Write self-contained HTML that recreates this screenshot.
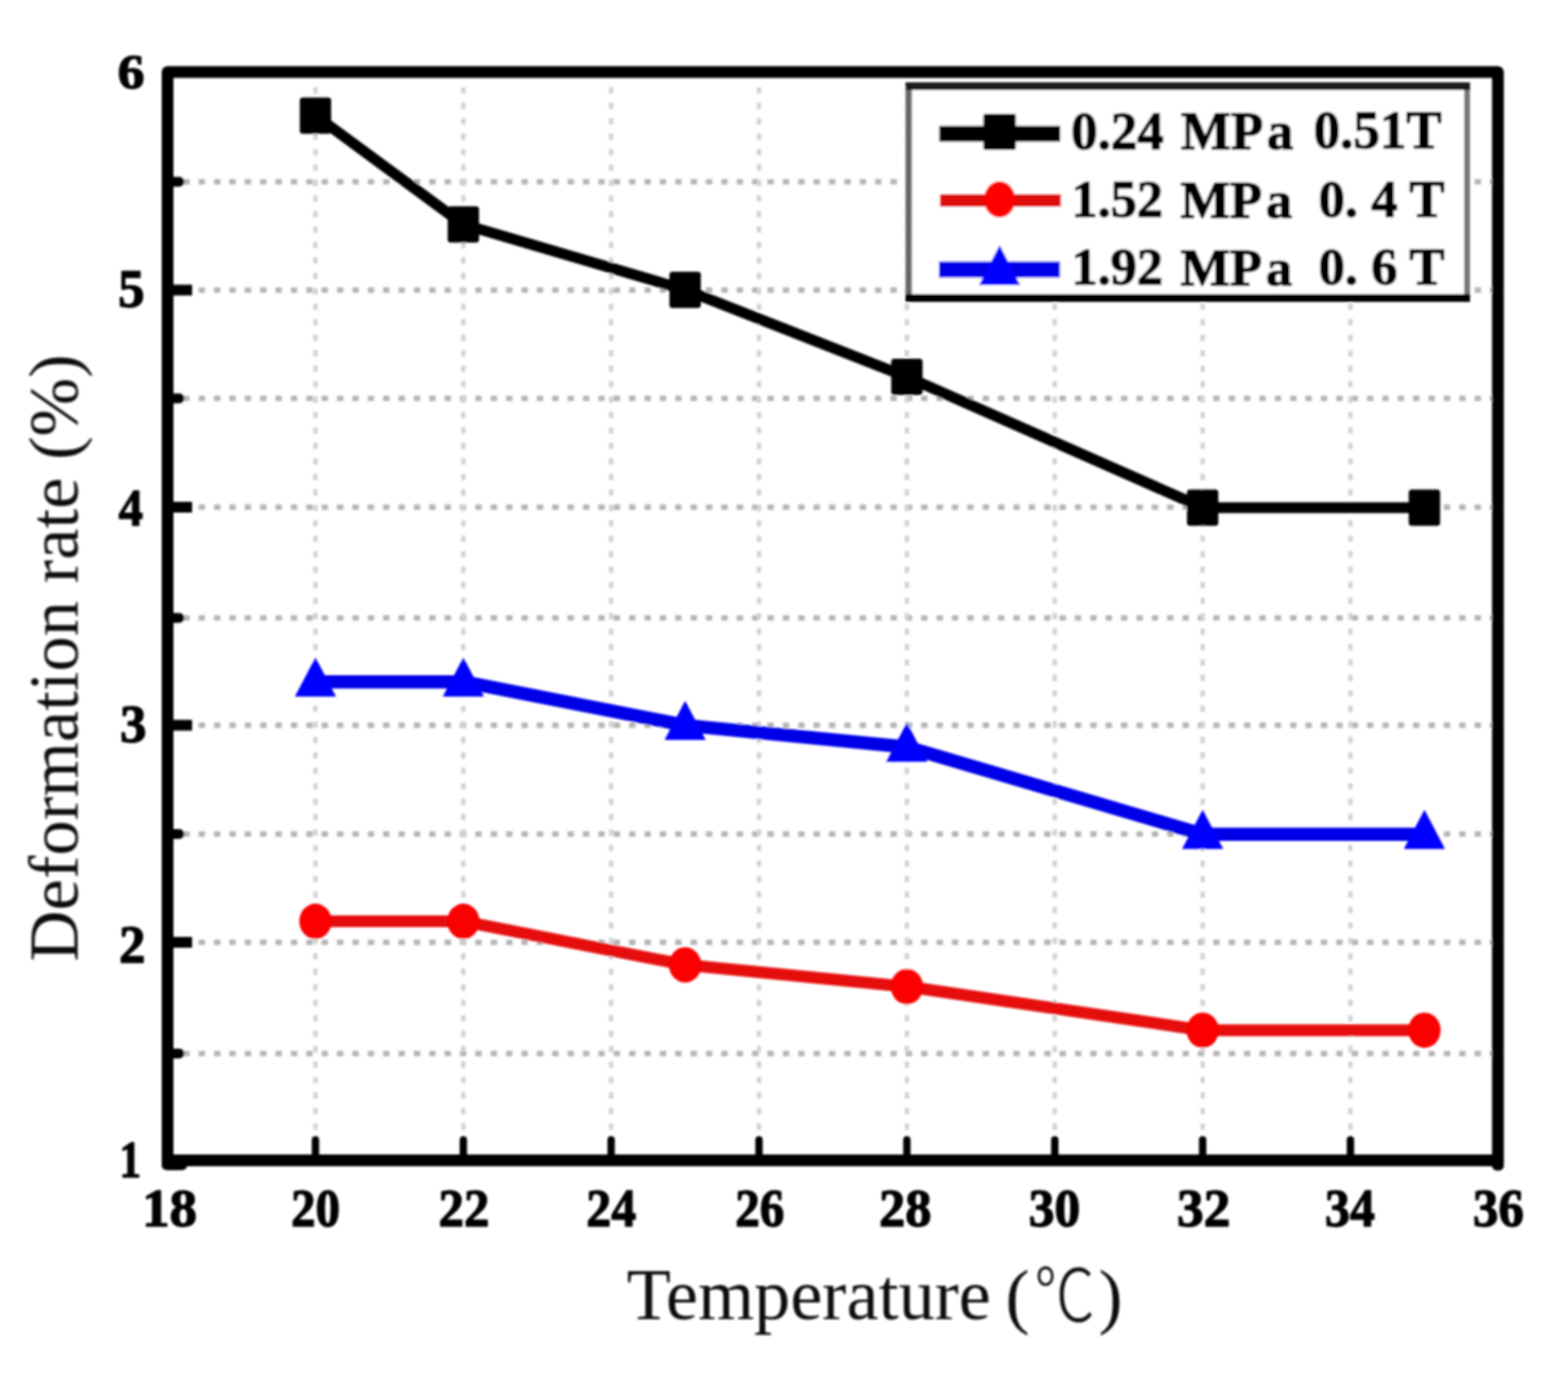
<!DOCTYPE html>
<html lang="en"><head><meta charset="utf-8"><title>Deformation rate vs Temperature</title><style>
html,body{margin:0;padding:0;background:#fff;width:1600px;height:1404px;overflow:hidden}
svg{display:block}
text{font-family:'Liberation Serif','Noto Serif CJK SC',serif}
.b{font-weight:bold;fill:#000;stroke:#000;stroke-linejoin:round}.r{font-weight:normal;fill:#111}
</style></head><body>
<svg width="1600" height="1404" viewBox="0 0 1600 1404">
<defs><filter id="soft" filterUnits="userSpaceOnUse" x="0" y="0" width="1600" height="1404"><feGaussianBlur stdDeviation="0.9"/></filter></defs>
<rect width="1600" height="1404" fill="#fff"/>
<g filter="url(#soft)">
<g stroke="#b4b4b4" stroke-width="5.5" stroke-dasharray="6.5 9.187" stroke-dashoffset="-10"><line x1="177" y1="1075.0" x2="1524" y2="1075.0"/><line x1="177" y1="961.5" x2="1524" y2="961.5"/><line x1="177" y1="851.0" x2="1524" y2="851.0"/><line x1="177" y1="740.0" x2="1524" y2="740.0"/><line x1="177" y1="630.5" x2="1524" y2="630.5"/><line x1="177" y1="517.5" x2="1524" y2="517.5"/><line x1="177" y1="406.5" x2="1524" y2="406.5"/><line x1="177" y1="296.0" x2="1524" y2="296.0"/><line x1="177" y1="185.5" x2="1524" y2="185.5"/></g>
<g stroke="#d2d2d2" stroke-width="4.5" stroke-dasharray="6.5 9.28" stroke-dashoffset="-8.9"><line x1="321.9" y1="80" x2="321.9" y2="1177"/><line x1="472.8" y1="80" x2="472.8" y2="1177"/><line x1="623.6" y1="80" x2="623.6" y2="1177"/><line x1="774.5" y1="80" x2="774.5" y2="1177"/><line x1="925.4" y1="80" x2="925.4" y2="1177"/><line x1="1076.3" y1="80" x2="1076.3" y2="1177"/><line x1="1227.2" y1="80" x2="1227.2" y2="1177"/><line x1="1378.0" y1="80" x2="1378.0" y2="1177"/></g>
<rect x="171" y="73.5" width="1357.5" height="1110.5" fill="none" stroke="#000" stroke-width="12" stroke-linejoin="round"/>
<rect x="165" y="1180" width="26" height="14" rx="5" fill="#000"/>
<rect x="1522.5" y="1180" width="12" height="14.5" rx="5" fill="#000"/>
<g stroke="#000"><line x1="171.0" y1="961.5" x2="196" y2="961.5" stroke-width="11"/><line x1="171.0" y1="740.0" x2="196" y2="740.0" stroke-width="11"/><line x1="171.0" y1="517.5" x2="196" y2="517.5" stroke-width="11"/><line x1="171.0" y1="296.0" x2="196" y2="296.0" stroke-width="11"/><line x1="171.0" y1="1075.0" x2="183" y2="1075.0" stroke-width="10" stroke-linecap="round"/><line x1="171.0" y1="851.0" x2="183" y2="851.0" stroke-width="10" stroke-linecap="round"/><line x1="171.0" y1="630.5" x2="183" y2="630.5" stroke-width="10" stroke-linecap="round"/><line x1="171.0" y1="406.5" x2="183" y2="406.5" stroke-width="10" stroke-linecap="round"/><line x1="171.0" y1="185.5" x2="183" y2="185.5" stroke-width="10" stroke-linecap="round"/><line x1="321.9" y1="1184.5" x2="321.9" y2="1163" stroke-width="7.5" stroke-linecap="round"/><line x1="472.8" y1="1184.5" x2="472.8" y2="1163" stroke-width="7.5" stroke-linecap="round"/><line x1="623.6" y1="1184.5" x2="623.6" y2="1163" stroke-width="7.5" stroke-linecap="round"/><line x1="774.5" y1="1184.5" x2="774.5" y2="1163" stroke-width="7.5" stroke-linecap="round"/><line x1="925.4" y1="1184.5" x2="925.4" y2="1163" stroke-width="7.5" stroke-linecap="round"/><line x1="1076.3" y1="1184.5" x2="1076.3" y2="1163" stroke-width="7.5" stroke-linecap="round"/><line x1="1227.2" y1="1184.5" x2="1227.2" y2="1163" stroke-width="7.5" stroke-linecap="round"/><line x1="1378.0" y1="1184.5" x2="1378.0" y2="1163" stroke-width="7.5" stroke-linecap="round"/></g>
<polyline points="321.9,117.9 472.8,229.0 699.1,295.7 925.4,384.6 1227.2,517.9 1453.5,517.9" fill="none" stroke="#000" stroke-width="11" stroke-linejoin="round"/>
<polyline points="321.9,695.7 472.8,695.7 699.1,740.1 925.4,762.3 1227.2,851.2 1453.5,851.2" fill="none" stroke="#0000e8" stroke-width="13.5" stroke-linejoin="round"/>
<polyline points="321.9,940.1 472.8,940.1 699.1,984.5 925.4,1006.7 1227.2,1051.2 1453.5,1051.2" fill="none" stroke="#e60808" stroke-width="12" stroke-linejoin="round"/>
<rect x="305.9" y="99.4" width="32" height="37" rx="3" fill="#000"/>
<rect x="456.8" y="210.5" width="32" height="37" rx="3" fill="#000"/>
<rect x="683.1" y="277.2" width="32" height="37" rx="3" fill="#000"/>
<rect x="909.4" y="366.1" width="32" height="37" rx="3" fill="#000"/>
<rect x="1211.2" y="499.4" width="32" height="37" rx="3" fill="#000"/>
<rect x="1437.5" y="499.4" width="32" height="37" rx="3" fill="#000"/>
<ellipse cx="321.9" cy="940.1" rx="16.5" ry="18" fill="#fa0000"/>
<ellipse cx="472.8" cy="940.1" rx="16.5" ry="18" fill="#fa0000"/>
<ellipse cx="699.1" cy="984.5" rx="16.5" ry="18" fill="#fa0000"/>
<ellipse cx="925.4" cy="1006.7" rx="16.5" ry="18" fill="#fa0000"/>
<ellipse cx="1227.2" cy="1051.2" rx="16.5" ry="18" fill="#fa0000"/>
<ellipse cx="1453.5" cy="1051.2" rx="16.5" ry="18" fill="#fa0000"/>
<polygon points="321.9,670.7 342.9,710.7 300.9,710.7" fill="#0000ff"/>
<polygon points="472.8,670.7 493.8,710.7 451.8,710.7" fill="#0000ff"/>
<polygon points="699.1,715.1 720.1,755.1 678.1,755.1" fill="#0000ff"/>
<polygon points="925.4,737.3 946.4,777.3 904.4,777.3" fill="#0000ff"/>
<polygon points="1227.2,826.2 1248.2,866.2 1206.2,866.2" fill="#0000ff"/>
<polygon points="1453.5,826.2 1474.5,866.2 1432.5,866.2" fill="#0000ff"/>
<rect x="924" y="84" width="576" height="224" fill="#fff"/>
<rect x="924" y="84" width="6.5" height="224" fill="#666"/>
<rect x="1494" y="84" width="6" height="224" fill="#777"/>
<rect x="924" y="84" width="576" height="8" fill="#1a1a1a"/>
<rect x="924" y="300" width="576" height="8" fill="#000"/>
<line x1="958.5" y1="136.5" x2="1082" y2="136.5" stroke="#000" stroke-width="16"/>
<rect x="1003.5" y="116" width="33" height="37" rx="2" fill="#000"/>
<line x1="959" y1="204.5" x2="1082.5" y2="204.5" stroke="#e00a0a" stroke-width="13"/>
<ellipse cx="1020" cy="203.5" rx="16" ry="18.5" fill="#ff0000"/>
<line x1="958" y1="275" x2="1081.5" y2="275" stroke="#0000e8" stroke-width="16.5"/>
<polygon points="1020,250 1041,291 999,291" fill="#0000ff"/>
<text class="b" style="font-size:55px;stroke-width:1.3px;" transform="scale(0.9815 0.9788)"><tspan x="1113.62" y="155.51">0.24</tspan> <tspan x="1227.71" y="155.51">MP<tspan dx="4">a</tspan></tspan> <tspan x="1365.78" y="154.48">0.51T</tspan></text>
<text class="b" style="font-size:55px;stroke-width:1.3px;" transform="scale(0.9740 0.9626)"><tspan x="1122.34" y="229.70">1.52</tspan> <tspan x="1236.71" y="230.22">MP<tspan dx="4">a</tspan></tspan> <tspan x="1381.51" y="229.18">0. 4 T</tspan></text>
<text class="b" style="font-size:55px;stroke-width:1.3px;" transform="scale(0.9740 0.9707)"><tspan x="1122.34" y="299.18">1.92</tspan> <tspan x="1236.71" y="299.70">MP<tspan dx="4">a</tspan></tspan> <tspan x="1381.51" y="298.67">0. 6 T</tspan></text>
<text class="r" style="font-size:74px;" transform="scale(0.9967 0.9942)"><tspan x="641.65" y="1354.10">Temperature</tspan> <tspan x="1029.46" y="1355.09">(</tspan><tspan x="1058.68" y="1356.07" textLength="62.44" lengthAdjust="spacingAndGlyphs" style="font-family:'Liberation Sans','Noto Sans CJK SC',sans-serif;font-weight:300">℃</tspan><tspan x="1124.77" y="1354.59">)</tspan></text>
<text class="r" style="font-size:72px;" transform="translate(79.23 981.00) rotate(-90) scale(1.0000 0.9848)">Deformation rate (%)</text>
<text class="b" style="font-size:55px;stroke-width:1.3px;" transform="matrix(1.0000 0 0 0.9289 120.00 90.37)">6</text>
<text class="b" style="font-size:55px;stroke-width:1.3px;" transform="matrix(0.9833 0 0 0.9868 120.43 312.51)">5</text>
<text class="b" style="font-size:55px;stroke-width:1.3px;" transform="matrix(0.9074 0 0 0.9737 121.00 536.03)">4</text>
<text class="b" style="font-size:55px;stroke-width:1.3px;" transform="matrix(0.9800 0 0 0.9842 122.52 756.72)">3</text>
<text class="b" style="font-size:55px;stroke-width:1.3px;" transform="matrix(0.9792 0 0 0.9816 121.54 982.02)">2</text>
<text class="b" style="font-size:55px;stroke-width:1.3px;" transform="matrix(0.8095 0 0 0.9737 121.76 1201.03)">1</text>
<text class="b" style="font-size:55px;stroke-width:1.3px;" transform="matrix(1.0200 0 0 1.0000 144.92 1251.00)">18</text>
<text class="b" style="font-size:55px;stroke-width:1.3px;" transform="matrix(0.9096 0 0 1.0000 296.88 1251.00)">20</text>
<text class="b" style="font-size:55px;stroke-width:1.3px;" transform="matrix(0.9412 0 0 1.0000 447.62 1251.00)">22</text>
<text class="b" style="font-size:55px;stroke-width:1.3px;" transform="matrix(0.9245 0 0 1.0000 598.35 1251.00)">24</text>
<text class="b" style="font-size:55px;stroke-width:1.3px;" transform="matrix(0.9115 0 0 1.0000 750.18 1251.00)">26</text>
<text class="b" style="font-size:55px;stroke-width:1.3px;" transform="matrix(0.9712 0 0 1.0000 897.06 1251.00)">28</text>
<text class="b" style="font-size:55px;stroke-width:1.3px;" transform="matrix(0.9547 0 0 1.0000 1049.85 1251.00)">30</text>
<text class="b" style="font-size:55px;stroke-width:1.3px;" transform="matrix(0.9904 0 0 1.0000 1201.01 1251.00)">32</text>
<text class="b" style="font-size:55px;stroke-width:1.3px;" transform="matrix(0.9259 0 0 1.0000 1352.07 1251.00)">34</text>
<text class="b" style="font-size:55px;stroke-width:1.3px;" transform="matrix(0.9434 0 0 1.0000 1503.06 1251.00)">36</text>
</g>
</svg></body></html>
